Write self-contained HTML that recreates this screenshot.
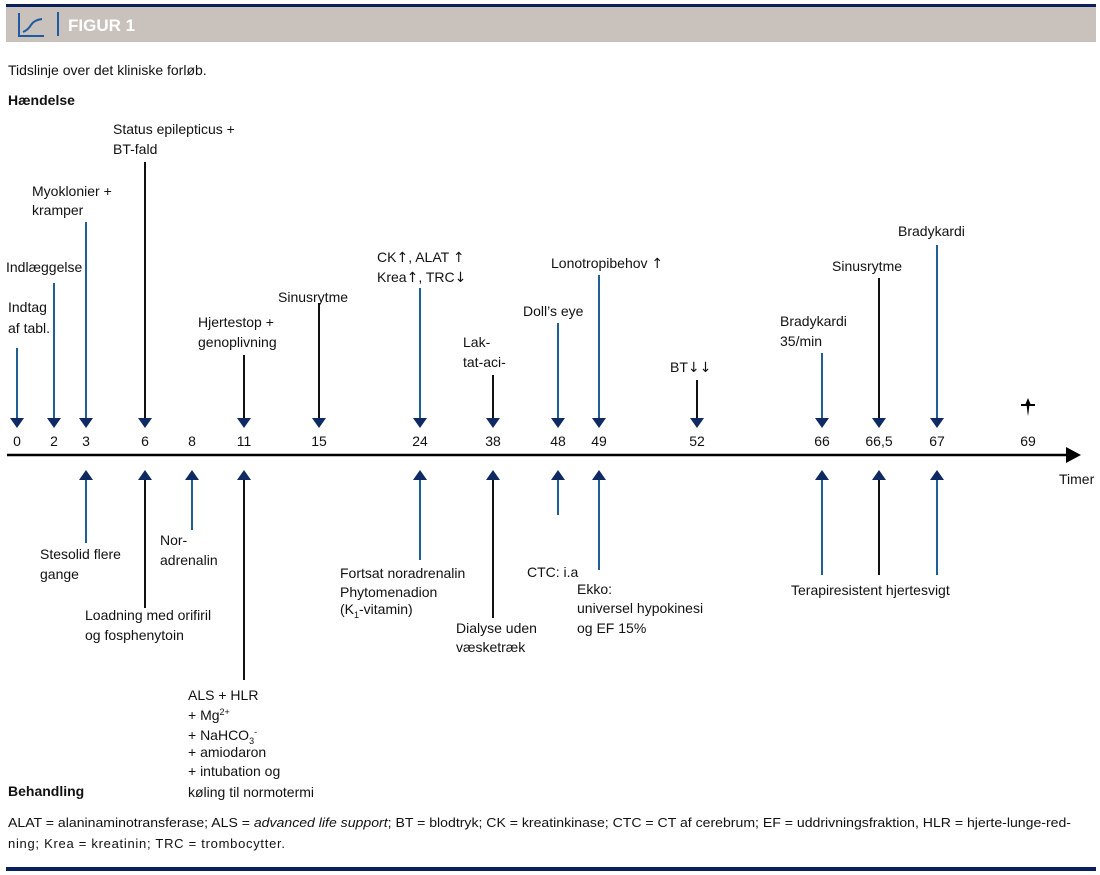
<!DOCTYPE html>
<html><head><meta charset="utf-8"><style>
body{margin:0;background:#fff;}
svg{display:block;font-family:"Liberation Sans Narrow","Liberation Sans",sans-serif;}
text{font-size:14px;fill:#111;}
.ar{font-family:"DejaVu Sans",sans-serif;font-size:14px;}
</style></head><body>
<svg width="1100" height="875" viewBox="0 0 1100 875" xmlns="http://www.w3.org/2000/svg">
<rect x="6" y="4" width="1090" height="3" fill="#0b1f5c"/>
<rect x="6" y="7" width="1090" height="35" fill="#c9c1bc"/>
<path d="M19 13 V36 H44" stroke="#1e5aa0" stroke-width="2" fill="none"/>
<path d="M23 32 Q28 30 31 25 T42 19" stroke="#1e5aa0" stroke-width="2" fill="none"/>
<rect x="57" y="12" width="2" height="24" fill="#1e5aa0"/>
<text x="68" y="31" style="font-size:17px;font-weight:bold;fill:#fff">FIGUR 1</text>
<text x="8" y="75">Tidslinje over det kliniske forløb.</text>
<text x="8" y="105" style="font-weight:bold">Hændelse</text>

<line x1="7" y1="455" x2="1068" y2="455" stroke="#000" stroke-width="2.5"/>
<path d="M1066 447 L1081 455 L1066 463 Z" fill="#000"/>
<text x="1059" y="484">Timer</text>

<g stroke-width="2">
<line x1="17" y1="348" x2="17" y2="420" stroke="#1f5f94"/>
<line x1="54" y1="283" x2="54" y2="420" stroke="#1f5f94"/>
<line x1="86" y1="222" x2="86" y2="420" stroke="#1f5f94"/>
<line x1="145" y1="162" x2="145" y2="420" stroke="#111"/>
<line x1="244" y1="355" x2="244" y2="420" stroke="#111"/>
<line x1="319" y1="303" x2="319" y2="420" stroke="#111"/>
<line x1="420" y1="288" x2="420" y2="420" stroke="#1f5f94"/>
<line x1="493" y1="375" x2="493" y2="420" stroke="#111"/>
<line x1="558" y1="323" x2="558" y2="420" stroke="#1f5f94"/>
<line x1="599" y1="275" x2="599" y2="420" stroke="#1f5f94"/>
<line x1="697" y1="380" x2="697" y2="420" stroke="#111"/>
<line x1="822" y1="353" x2="822" y2="420" stroke="#1f5f94"/>
<line x1="879" y1="278" x2="879" y2="420" stroke="#111"/>
<line x1="937" y1="245" x2="937" y2="420" stroke="#1f5f94"/>
<line x1="86" y1="478" x2="86" y2="543" stroke="#1f5f94"/>
<line x1="145" y1="478" x2="145" y2="608" stroke="#111"/>
<line x1="192" y1="478" x2="192" y2="530" stroke="#1f5f94"/>
<line x1="244" y1="478" x2="244" y2="680" stroke="#111"/>
<line x1="420" y1="478" x2="420" y2="560" stroke="#1f5f94"/>
<line x1="493" y1="478" x2="493" y2="618" stroke="#111"/>
<line x1="558" y1="478" x2="558" y2="515" stroke="#1f5f94"/>
<line x1="599" y1="478" x2="599" y2="570" stroke="#1f5f94"/>
<line x1="822" y1="478" x2="822" y2="575" stroke="#1f5f94"/>
<line x1="879" y1="478" x2="879" y2="575" stroke="#111"/>
<line x1="937" y1="478" x2="937" y2="575" stroke="#1f5f94"/>
</g>
<g fill="#0f2a63">
<path d="M10 418h14l-7 10z"/><path d="M47 418h14l-7 10z"/><path d="M79 418h14l-7 10z"/>
<path d="M138 418h14l-7 10z"/><path d="M237 418h14l-7 10z"/><path d="M312 418h14l-7 10z"/>
<path d="M413 418h14l-7 10z"/><path d="M486 418h14l-7 10z"/><path d="M551 418h14l-7 10z"/>
<path d="M592 418h14l-7 10z"/><path d="M690 418h14l-7 10z"/><path d="M815 418h14l-7 10z"/>
<path d="M872 418h14l-7 10z"/><path d="M930 418h14l-7 10z"/>
<path d="M79 480h14l-7 -10z"/><path d="M138 480h14l-7 -10z"/><path d="M185 480h14l-7 -10z"/>
<path d="M237 480h14l-7 -10z"/><path d="M413 480h14l-7 -10z"/><path d="M486 480h14l-7 -10z"/>
<path d="M551 480h14l-7 -10z"/><path d="M592 480h14l-7 -10z"/><path d="M815 480h14l-7 -10z"/>
<path d="M872 480h14l-7 -10z"/><path d="M930 480h14l-7 -10z"/>
</g>
<path d="M1028 398 L1030.5 404 L1029.5 404 L1028.5 413 L1028 416 L1027.5 413 L1026.5 404 L1025.5 404 Z" fill="#000"/>
<path d="M1021 404 L1035 404 L1035 406 L1021 406 Z" fill="#000"/>

<g text-anchor="middle">
<text x="17" y="446">0</text><text x="54" y="446">2</text><text x="86" y="446">3</text>
<text x="145" y="446">6</text><text x="192" y="446">8</text><text x="244" y="446">11</text>
<text x="319" y="446">15</text><text x="420" y="446">24</text><text x="493" y="446">38</text>
<text x="558" y="446">48</text><text x="599" y="446">49</text><text x="697" y="446">52</text>
<text x="822" y="446">66</text><text x="879" y="446">66,5</text><text x="937" y="446">67</text>
<text x="1028" y="446">69</text>
</g>

<text x="8" y="312">Indtag</text><text x="8" y="333">af tabl.</text>
<text x="6" y="272">Indlæggelse</text>
<text x="32" y="196">Myoklonier +</text><text x="32" y="215">kramper</text>
<text x="113" y="134">Status epilepticus +</text><text x="113" y="154">BT-fald</text>
<text x="198" y="327">Hjertestop +</text><text x="198" y="347">genoplivning</text>
<text x="278" y="302">Sinusrytme</text>
<text x="377" y="262">CK<tspan class="ar">↑</tspan>, ALAT <tspan class="ar">↑</tspan></text><text x="377" y="282">Krea<tspan class="ar">↑</tspan>, TRC<tspan class="ar">↓</tspan></text>
<text x="463" y="347">Lak-</text><text x="463" y="367">tat-aci-</text>
<text x="523" y="316">Doll’s eye</text>
<text x="551" y="268">Lonotropibehov <tspan class="ar">↑</tspan></text>
<text x="670" y="372">BT<tspan class="ar">↓↓</tspan></text>
<text x="780" y="326">Bradykardi</text><text x="780" y="346">35/min</text>
<text x="832" y="271">Sinusrytme</text>
<text x="898" y="236">Bradykardi</text>

<text x="40" y="559">Stesolid flere</text><text x="40" y="579">gange</text>
<text x="160" y="545">Nor-</text><text x="160" y="565">adrenalin</text>
<text x="85" y="620">Loadning med orifiril</text><text x="85" y="640">og fosphenytoin</text>
<text x="188" y="700">ALS + HLR</text>
<text x="188" y="720">+ Mg<tspan dy="-5" style="font-size:9px">2+</tspan></text>
<text x="188" y="740">+ NaHCO<tspan dy="4" style="font-size:9px">3</tspan><tspan dy="-9" style="font-size:9px">-</tspan></text>
<text x="188" y="757">+ amiodaron</text>
<text x="188" y="776">+ intubation og</text>
<text x="188" y="797">køling til normotermi</text>
<text x="340" y="578">Fortsat noradrenalin</text><text x="340" y="597">Phytomenadion</text>
<text x="340" y="614">(K<tspan dy="4" style="font-size:9px">1</tspan><tspan dy="-4">-vitamin)</tspan></text>
<text x="456" y="633">Dialyse uden</text><text x="456" y="652">væsketræk</text>
<text x="527" y="577">CTC: i.a</text>
<text x="577" y="594">Ekko:</text><text x="577" y="613">universel hypokinesi</text><text x="577" y="633">og EF 15%</text>
<text x="791" y="595">Terapiresistent hjertesvigt</text>
<text x="8" y="796" style="font-weight:bold">Behandling</text>

<text x="8" y="827" style="font-size:13px" textLength="1063" lengthAdjust="spacingAndGlyphs">ALAT = alaninaminotransferase;  ALS = <tspan font-style="italic">advanced life support</tspan>;  BT = blodtryk;  CK = kreatinkinase;  CTC = CT af cerebrum;  EF = uddrivningsfraktion,  HLR = hjerte-lunge-red-</text>
<text x="8" y="848" style="font-size:13px" textLength="277" lengthAdjust="spacing">ning;  Krea = kreatinin;  TRC = trombocytter.</text>

<rect x="6" y="867" width="1090" height="4" fill="#0b1f5c"/>
</svg>
</body></html>
